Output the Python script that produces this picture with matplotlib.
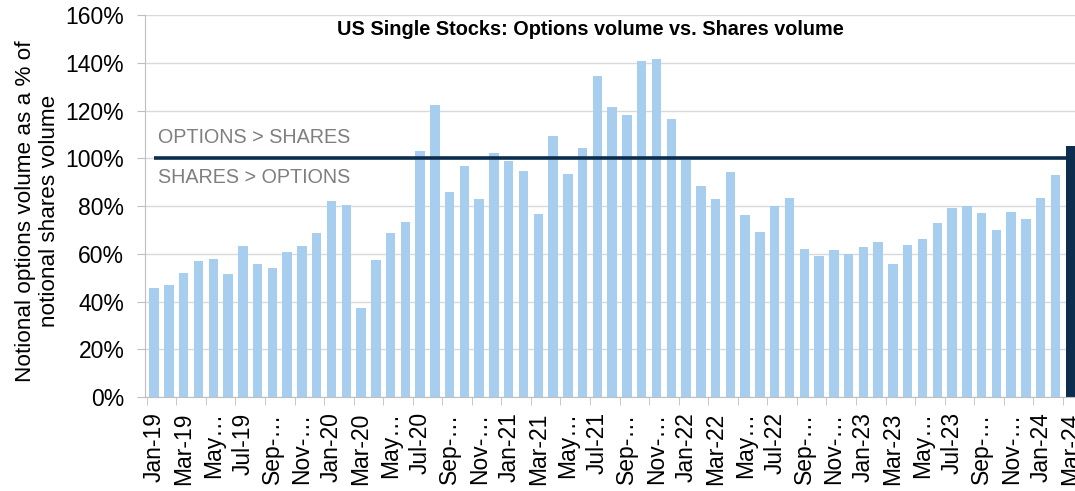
import matplotlib
matplotlib.use("Agg")
import matplotlib.pyplot as plt
import numpy as np

plt.rcParams['font.family'] = ['Liberation Sans', 'DejaVu Sans']

# monthly data, Jan-19 .. Mar-24 (options notional as % of shares notional)
months = ["Jan-19", "Feb-19", "Mar-19", "Apr-19", "May-19", "Jun-19", "Jul-19", "Aug-19",
          "Sep-19", "Oct-19", "Nov-19", "Dec-19",
          "Jan-20", "Feb-20", "Mar-20", "Apr-20", "May-20", "Jun-20", "Jul-20", "Aug-20",
          "Sep-20", "Oct-20", "Nov-20", "Dec-20",
          "Jan-21", "Feb-21", "Mar-21", "Apr-21", "May-21", "Jun-21", "Jul-21", "Aug-21",
          "Sep-21", "Oct-21", "Nov-21", "Dec-21",
          "Jan-22", "Feb-22", "Mar-22", "Apr-22", "May-22", "Jun-22", "Jul-22", "Aug-22",
          "Sep-22", "Oct-22", "Nov-22", "Dec-22",
          "Jan-23", "Feb-23", "Mar-23", "Apr-23", "May-23", "Jun-23", "Jul-23", "Aug-23",
          "Sep-23", "Oct-23", "Nov-23", "Dec-23",
          "Jan-24", "Feb-24", "Mar-24"]

ratio = [45.7, 47.0, 51.9, 57.1, 58.0, 51.7, 63.4, 55.9, 54.2, 60.9, 63.4, 68.5,
         82.0, 80.6, 37.4, 57.3, 68.5, 73.2, 103.0, 122.3, 86.0, 96.8, 83.0, 102.0,
         99.0, 94.7, 76.6, 109.4, 93.5, 104.4, 134.6, 121.4, 118.3, 140.7, 141.6, 116.6,
         99.1, 88.5, 83.1, 94.4, 76.1, 69.2, 80.0, 83.5, 62.0, 59.0, 61.5, 60.0,
         63.0, 64.8, 55.9, 63.5, 66.3, 73.0, 79.0, 80.0, 77.1, 70.1, 77.7, 74.6,
         83.3, 92.8, 105.3]

# shortened labels as they appear in the source chart
tick_labels = ["Jan-19", "Mar-19", "May\u2026", "Jul-19", "Sep-\u2026", "Nov-\u2026",
               "Jan-20", "Mar-20", "May\u2026", "Jul-20", "Sep-\u2026", "Nov-\u2026",
               "Jan-21", "Mar-21", "May\u2026", "Jul-21", "Sep-\u2026", "Nov-\u2026",
               "Jan-22", "Mar-22", "May\u2026", "Jul-22", "Sep-\u2026", "Nov-\u2026",
               "Jan-23", "Mar-23", "May\u2026", "Jul-23", "Sep-\u2026", "Nov-\u2026",
               "Jan-24", "Mar-24"]

parity = 100

light = "#A7CEEE"
dark = "#0C2D4E"
grid_c = "#D9D9D9"

fig = plt.figure(figsize=(10.75, 4.91), dpi=100)
ax = fig.add_axes([0.135, 0.1914, 0.865, 0.778])

x = np.arange(len(months))
colors = [light] * (len(months) - 1) + [dark]
ax.bar(x, ratio, width=0.64, color=colors, zorder=2)

ax.hlines(parity, x[0], x[-1], color=dark, lw=2.6, zorder=3)

ax.set_ylim(0, 160)
ax.set_xlim(-0.61, len(months) - 1 + 0.32)
ax.set_yticks(np.arange(0, 161, 20))
ax.set_yticklabels([f"{v}%" for v in range(0, 161, 20)])
ax.yaxis.grid(True, color=grid_c, lw=1.0, zorder=0)

ax.set_xticks(x[::2])
ax.set_xticklabels(tick_labels, rotation=90)
ax.set_xticks(x[::2] - 0.5, minor=True)
ax.tick_params(axis='x', which='major', length=0, pad=11, labelsize=16.5)
ax.tick_params(axis='x', which='minor', length=6, color="#BFBFBF")
ax.tick_params(axis='y', length=6, color="#BFBFBF", pad=9, labelsize=16.5)

for s in ["top", "right"]:
    ax.spines[s].set_visible(False)
for s in ["left", "bottom"]:
    ax.spines[s].set_color("#BFBFBF")

ax.text(0.479, 0.963, "US Single Stocks: Options volume vs. Shares volume",
        transform=ax.transAxes, ha="center", va="center", fontsize=14.3, fontweight="bold")
ax.text(0.27, 108.8, "OPTIONS > SHARES", color="#7F7F7F", fontsize=14.2, va="center", ha="left")
ax.text(0.27, 91.8, "SHARES > OPTIONS", color="#7F7F7F", fontsize=14.2, va="center", ha="left")

fig.text(0.035, 0.57, "Notional options volume as a % of\nnotional shares volume",
         rotation=90, ha="center", va="center", fontsize=16.2, linespacing=1.15)

fig.savefig("out.png", dpi=100)
